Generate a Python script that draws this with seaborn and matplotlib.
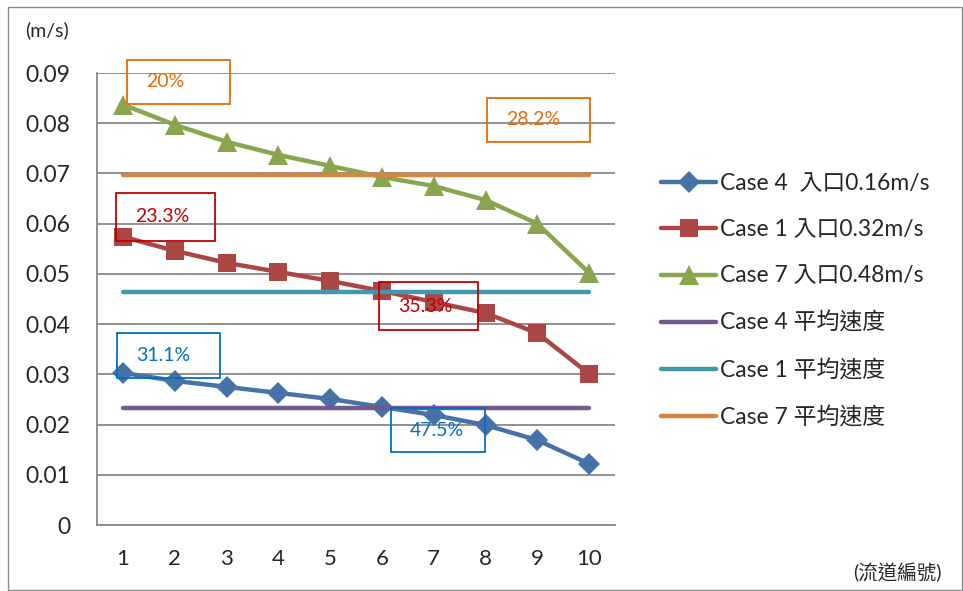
import pandas as pd
import matplotlib
matplotlib.use('Agg')
import matplotlib.pyplot as plt
from matplotlib.patches import Rectangle
from matplotlib.ticker import MultipleLocator, FixedLocator
import seaborn as sns

# 資料
channels = list(range(1, 11))
case4 = [0.0303, 0.0287, 0.0275, 0.0263, 0.0251, 0.0235, 0.0219, 0.0199, 0.0169, 0.0122]
case1 = [0.0574, 0.0546, 0.0522, 0.0504, 0.0486, 0.0466, 0.0444, 0.0422, 0.0382, 0.0301]
case7 = [0.0837, 0.0797, 0.0763, 0.0737, 0.0715, 0.0693, 0.0675, 0.0647, 0.0600, 0.0502]
avg4 = 0.0233
avg1 = 0.0464
avg7 = 0.0697

series_names = ['Case 4  入口0.16m/s', 'Case 1 入口0.32m/s', 'Case 7 入口0.48m/s',
                'Case 4 平均速度', 'Case 1 平均速度', 'Case 7 平均速度']
pct_labels = ['20%', '28.2%', '23.3%', '35.3%', '31.1%', '47.5%']

sns.set_style('white')
plt.rcParams['font.family'] = ['Lato', 'Noto Sans CJK TC', 'DejaVu Sans']
plt.rcParams['axes.unicode_minus'] = False

COLORS = ['#4572A7', '#AA4643', '#89A54E', '#71588F', '#4198AF', '#DB843D']
MARKERS = ['D', 's', '^', None, None, None]
MSIZE = [11, 13, 14, 0, 0, 0]

fig = plt.figure(figsize=(9.63, 5.91), dpi=100)
ax = fig.add_axes([97 / 963, 1 - 525 / 591, (615 - 97) / 963, (525 - 73) / 591])

# 外框
fig.add_artist(Rectangle((8 / 963, 1 / 591), 954 / 963, 583 / 591, transform=fig.transFigure,
                         fill=False, edgecolor='#8c8c8c', linewidth=1))

all_vals = [case4, case1, case7, [avg4] * 10, [avg1] * 10, [avg7] * 10]
for name, vals, c, m, ms in zip(series_names, all_vals, COLORS, MARKERS, MSIZE):
    df = pd.DataFrame({'channel': channels, 'v': vals})
    sns.lineplot(data=df, x='channel', y='v', ax=ax, color=c, linewidth=3.2,
                 marker=m, markersize=ms, markeredgewidth=0, label=name,
                 solid_capstyle='round', zorder=3)

ax.set_xlim(0.5, 10.5)
ax.set_ylim(0, 0.09)
ax.yaxis.set_major_locator(MultipleLocator(0.01))
ax.set_yticklabels([f'{v:.2f}' if v > 0 else '0' for v in ax.get_yticks()])
ax.set_xticks(channels)
ax.xaxis.set_minor_locator(FixedLocator([i + 0.5 for i in range(0, 11)]))
ax.tick_params(axis='x', which='major', length=0, pad=17, labelsize=16)
ax.tick_params(axis='x', which='minor', length=8, width=1.3, color='#888888')
ax.tick_params(axis='y', length=7, width=1.3, color='#888888', labelsize=16.5, pad=12)
ax.grid(axis='y', color='#888888', linewidth=1.3, zorder=0)
ax.set_axisbelow(True)
for s in ['top', 'right']:
    ax.spines[s].set_visible(False)
for s in ['left', 'bottom']:
    ax.spines[s].set_color('#888888')
    ax.spines[s].set_linewidth(1.3)
ax.set_xlabel('')
ax.set_ylabel('')

# 百分比標註框
boxes = [(1.077, 3.07, 0.0839, 0.0926, '#E46C0A'),
         (8.03, 10.02, 0.0763, 0.0851, '#E46C0A'),
         (0.865, 2.78, 0.0566, 0.0661, '#C00000'),
         (5.94, 7.85, 0.0388, 0.0484, '#C00000'),
         (0.884, 2.87, 0.0293, 0.0382, '#0070C0'),
         (6.17, 7.99, 0.0145, 0.0233, '#0070C0')]
for (x0, x1, y0, y1, c), lab in zip(boxes, pct_labels):
    ax.add_patch(Rectangle((x0, y0), x1 - x0, y1 - y0, fill=False, edgecolor=c,
                           linewidth=1.3, clip_on=False, zorder=4))
    ax.text(x0 + 0.37, (y0 + y1) / 2, lab, color=c, fontsize=14,
            ha='left', va='center', zorder=5)

fig.text(25 / 963, 1 - 30 / 591, '(m/s)', fontsize=14, va='center', ha='left')
fig.text(942 / 963, 1 - 572 / 591, '(流道編號)', fontsize=14, va='center', ha='right')

ax.legend(loc='upper left', bbox_to_anchor=(652 / 963, 1 - 164 / 591),
          bbox_transform=fig.transFigure, frameon=False, fontsize=16.5,
          handlelength=2.4, handletextpad=0.15, labelspacing=1.1, borderaxespad=0)

plt.savefig('out.png', dpi=100)
plt.close()
